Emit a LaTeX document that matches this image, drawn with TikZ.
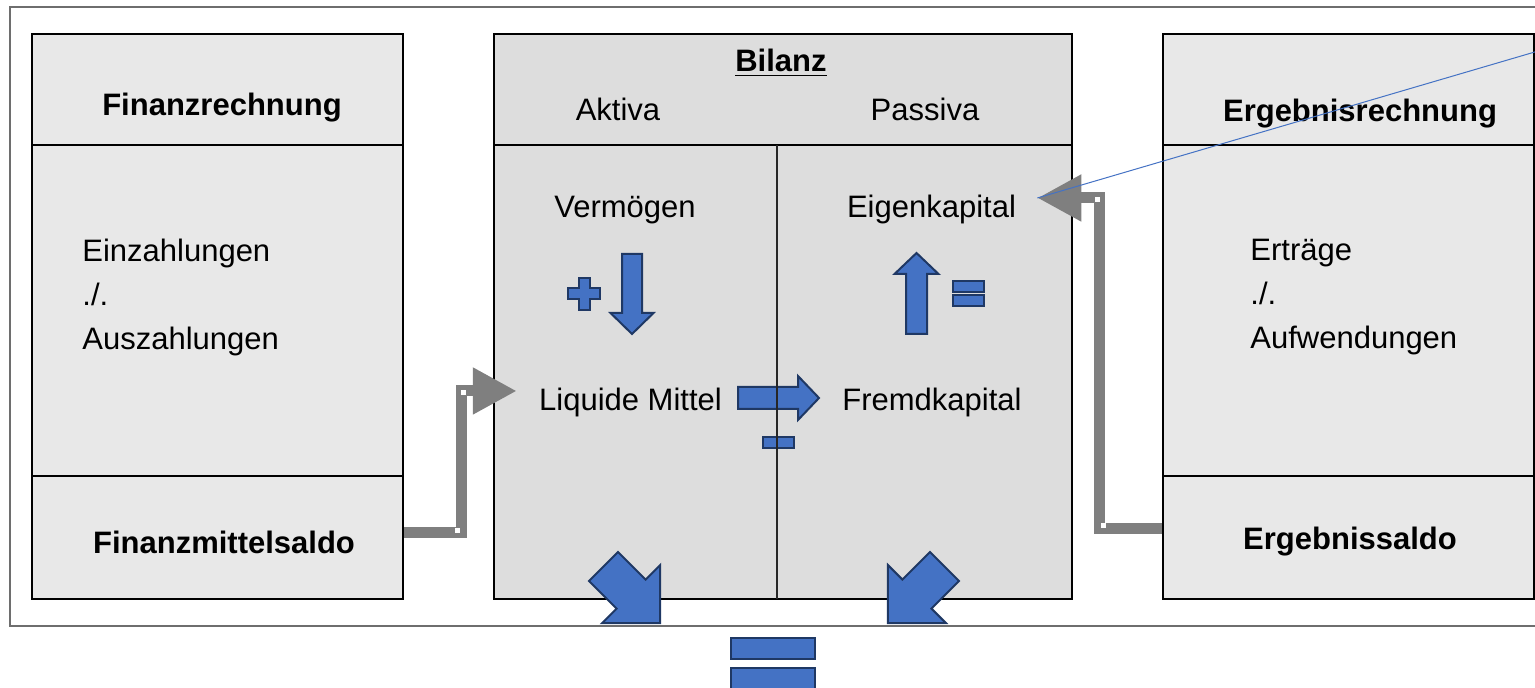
\documentclass[tikz,border=0pt]{standalone}
\usepackage{fontspec}
\setmainfont{Liberation Sans}
\usetikzlibrary{arrows.meta}

\definecolor{boxgray}{HTML}{E8E8E8}
\definecolor{bilgray}{HTML}{DDDDDD}
\definecolor{framegray}{HTML}{6E6E6E}
\definecolor{linkgray}{HTML}{7F7F7F}
\definecolor{arrowblue}{HTML}{4472C4}
\definecolor{arrowedge}{HTML}{1F3864}

\begin{document}
\begin{tikzpicture}[x=0.5pt,y=-0.5pt,
    font=\fontsize{15.5}{22}\selectfont,
    section/.style={draw=black, line width=1pt, inner sep=0pt, fill=boxgray},
    txt/.style={inner sep=0pt, anchor=base},
    title/.style={txt, font=\fontsize{15.5}{22}\selectfont\bfseries},
    link/.style={draw=linkgray, line width=5.5pt, -{Triangle[length=22pt,width=22pt]}},
    blockarr/.style={draw=arrowedge, fill=arrowblue, line width=1pt}
    ]
    \clip (0,0) rectangle (1535,688);

    % outer frame (runs off to the right)
    \draw[framegray, line width=0.9pt] (1545,7) -- (10,7) -- (10,626) -- (1545,626);

    % side boxes: head, body, foot
    \foreach \name/\cx in {fin/217.5, erg/1348} {
        \node[section, minimum width=185.5pt, minimum height=55.5pt]  (\name-head) at (\cx,89.5)  {};
        \node[section, minimum width=185.5pt, minimum height=165.5pt] (\name-body) at (\cx,310.5) {};
        \node[section, minimum width=185.5pt, minimum height=61.5pt]  (\name-foot) at (\cx,537.5) {};
    }
    % Bilanz box
    \node[section, fill=bilgray, minimum width=289pt, minimum height=55.5pt] (bil-head) at (783,89.5) {};
    \node[section, fill=bilgray, minimum width=289pt, minimum height=227pt]  (bil-body) at (783,372)  {};

    % texts
    \node[title] (fintitle) at (222,116) {Finanzrechnung};
    \node[inner sep=0pt, anchor=west, align=left] (finflow) at (82,297) {Einzahlungen\\./.\\Auszahlungen};
    \node[title] (fintotal) at (224,554) {Finanzmittelsaldo};

    \node[title] (bilanz) at (781,72) {\underline{Bilanz}};
    \node[txt] (aktiva)  at (618,121) {Aktiva};
    \node[txt] (passiva) at (925,121) {Passiva};
    \node[txt] (vermoegen) at (625,218) {Vermögen};
    \node[txt] (eigen)     at (931.5,218) {Eigenkapital};
    \node[txt] (liquide)   at (630.5,411) {Liquide Mittel};
    \node[txt] (fremd)     at (932,411) {Fremdkapital};

    \node[title] (ergtitle) at (1360,122) {Ergebnisrechnung};
    \node[inner sep=0pt, anchor=west, align=left] (ergflow) at (1250,297) {Erträge\\./.\\Aufwendungen};
    \node[title] (ergtotal) at (1350,550) {Ergebnissaldo};

    % blue block arrows: x/y/angle/length/shaft/head width/head length
    \foreach \bx/\by/\ang/\len/\sw/\hw/\hl in {632/254/-90/80/20/43/21, 916.5/334/90/81/21/44/21,
        738/398/0/81/22/44/21, 603.5/566.5/-45/80/41/82/41, 944.5/566.5/-135/80/41/82/41}
        \draw[blockarr, shift={(\bx,\by)}, rotate=\ang]
            (0,{-\sw/2}) -- ({\len-\hl},{-\sw/2}) -- ({\len-\hl},{-\hw/2}) -- (\len,0)
            -- ({\len-\hl},{\hw/2}) -- ({\len-\hl},{\sw/2}) -- (0,{\sw/2}) -- cycle;

    % plus, minus, equals
    \draw[blockarr, shift={(584,294)}] (-5.5,-16) -- (5.5,-16) -- (5.5,-5.5) -- (16,-5.5) -- (16,5.5)
        -- (5.5,5.5) -- (5.5,16) -- (-5.5,16) -- (-5.5,5.5) -- (-16,5.5) -- (-16,-5.5) -- (-5.5,-5.5) -- cycle;
    \draw[blockarr] (763,437) rectangle (794,448);
    \draw[blockarr] (953,281) rectangle (984,292);
    \draw[blockarr] (953,295) rectangle (984,306);
    \draw[blockarr] (731,638) rectangle (815,659);
    \draw[blockarr] (731,668) rectangle (815,689);

    % divider Aktiva | Passiva
    \draw[black!85, line width=0.8pt] (777,145) -- (777,599);

    % gray connectors
    \coordinate (liqin) at ([xshift=-11pt,yshift=6pt]liquide.west);
    \coordinate (ekin)  at ([xshift=10.5pt,yshift=6pt]eigen.east);
    \draw[link] ([yshift=2.25pt]fin-foot.east) -- ++(57,0) |- (liqin);
    \draw[link] ([yshift=4.5pt]erg-foot.west) -- ++(-62.5,0) |- (ekin);
    \foreach \sx/\sy in {463/393, 457/531, 1097/200, 1103/526}
        \fill[white] ({\sx-2.5},{\sy-2.5}) rectangle ++(5,5);

    % thin blue pointer
    \coordinate (noteend) at (1545,49);
    \draw[arrowblue, line width=0.5pt] (ekin) -- (noteend);
\end{tikzpicture}
\end{document}
